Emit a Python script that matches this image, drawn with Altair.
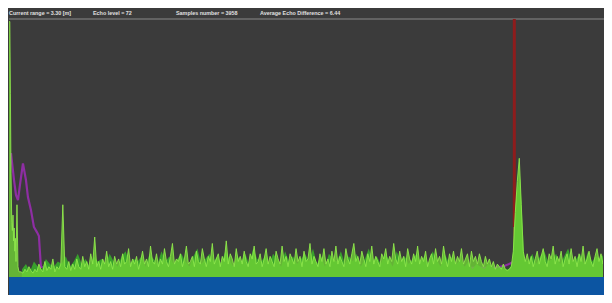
import altair as alt
import pandas as pd

# ---------------- data ----------------
header_labels = ["Current range = 3.30 [m]", "Echo level = 72",
                 "Samples number = 3958", "Average Echo Difference = 6.44"]

# echo amplitude (0-100) against sample position
head_pos = [8, 8.8, 9.4, 10, 10.8, 11.4, 12, 12.6, 13.2, 13.8, 14.4, 15, 16, 17, 18]
head_amp = [99, 99, 71, 40, 21, 18, 24, 14, 19, 10, 15, 6, 28, 4, 2]

body_amp = [
    2, 1.5, 3, 2, 4, 2.5, 1.5, 3, 2, 5,
    3, 2, 6, 2.5, 4, 3, 7, 2, 4, 3,
    5, 28, 4, 3, 6, 2.5, 5, 3, 7, 4,
    3, 8, 4, 6, 3, 9, 5, 15.5, 4, 6,
    3, 7, 5, 10, 4, 6, 3, 8, 5, 7,
    4, 9, 5, 6, 11, 4, 7, 5, 8, 3,
    6, 10, 5, 7, 4, 12, 6, 5, 9, 4,
    7, 5, 11, 6, 4, 8, 13, 5, 7, 6,
    9, 4, 7, 12, 5, 6, 8, 4, 10, 6,
    5, 11, 7, 4, 8, 6, 13, 5, 7, 9,
    4, 8, 6, 14, 5, 9, 7, 4, 11, 6,
    8, 5, 10, 6, 4, 9, 7, 12, 5, 6,
    9, 4, 7, 11, 5, 8, 6, 4, 10, 7,
    5, 12, 6, 8, 4, 9, 7, 5, 11, 6,
    8, 4, 10, 6, 7, 13, 5, 8, 6, 4,
    9, 6, 11, 5, 7, 4, 10, 6, 12, 5,
    8, 6, 4, 11, 7, 5, 9, 13, 6, 8,
    5, 10, 7, 4, 9, 6, 12, 5, 8, 6,
    4, 9, 7, 11, 5, 8, 6, 13, 7, 5,
    10, 6, 8, 4, 11, 7, 5, 9, 6, 12,
    5, 8, 6, 10, 4, 7, 9, 5, 11, 6,
    8, 5, 12, 7, 4, 9, 6, 10, 5, 8,
    6, 11, 5, 7, 9, 4, 10, 6, 8, 5,
    9, 6, 4, 8, 5, 7, 4, 6, 3, 5,
    4, 3, 5, 3, 2.5, 3, 4, 10, 25, 37,
    46, 28, 10, 6, 9, 5, 8, 4, 7, 10,
    5, 8, 11, 6, 4, 9, 7, 12, 5, 8,
    6, 10, 4, 7, 9, 5, 11, 6, 8, 4,
    9, 6, 12, 5, 7, 10, 6, 4, 8, 11,
    6, 9, 5, 12, 7, 10, 8,
]
body_pos = list(range(20, 613, 2))

# second (darker) echo strand, every 4 samples from 21
strand_amp = [
    3, 5, 2, 6, 4, 3, 7, 5, 4, 6,
    5, 8, 4, 6, 9, 5, 7, 4, 8, 6,
    7, 5, 9, 6, 4, 8, 10, 5, 7, 6,
    8, 4, 9, 7, 5, 10, 6, 8, 5, 7,
    9, 6, 4, 8, 11, 5, 7, 9, 6, 8,
    5, 10, 7, 4, 8, 6, 9, 5, 11, 7,
    6, 8, 5, 9, 7, 4, 10, 6, 8, 5,
    7, 9, 6, 11, 5, 8, 4, 9, 7, 6,
    10, 5, 8, 6, 9, 4, 7, 11, 6, 8,
    5, 9, 7, 4, 10, 6, 8, 5, 7, 9,
    6, 8, 5, 10, 7, 4, 9, 6, 8, 5,
    7, 4, 6, 3, 5, 4, 3, 5, 4, 3,
    4, 3, 3, 5, 32, 38, 7, 6, 9, 5,
    8, 10, 6, 7, 9, 5, 8, 11, 6, 7,
    9, 5, 10, 6, 8, 7, 9,
]
strand_pos = list(range(21, 606, 4))

# averaged echo (purple trace)
avg_pos = [10, 13, 15, 17, 19, 22, 25, 27, 30, 33, 36, 38, 40, 45, 100, 200,
           300, 400, 495, 505, 512, 516, 520, 525, 540, 612]
avg_amp = [48, 37.6, 31.8, 29.8, 35.7, 44, 37.6, 31, 26, 19.4, 17.4, 15.9, 3.9,
           3.5, 3.4, 3.6, 3.4, 3.5, 3.5, 4.3, 5.4, 6.6, 5.8, 3.9, 3.5, 3.5]

# detected echo marker: position, lower / upper segment limits
marker_pos = [515, 515]
marker_lo = [19.4, 0]
marker_hi = [100, 19.4]
marker_part = ["above", "below"]

# ---------------- chart ----------------
W, H = 596, 287
PLOT_BG = "#3b3b3b"

echo = pd.DataFrame({"pos": head_pos + body_pos, "amp": head_amp + body_amp})
echo["base"] = 0
strand = pd.DataFrame({"pos": strand_pos, "amp": strand_amp})
strand["base"] = 0
avg = pd.DataFrame({"pos": avg_pos, "amp": avg_amp})
marker = pd.DataFrame({"pos": marker_pos, "lo": marker_lo, "hi": marker_hi,
                       "part": marker_part})

# amplitude 0 -> chart y 269, 100 -> chart y 11
xs = alt.Scale(domain=[8, 8 + W], nice=False, zero=False)
ys = alt.Scale(domain=[-(H - 269) / 2.58, 269 / 2.58], nice=False, zero=False)
X = alt.X("pos:Q", scale=xs, axis=None)
Y = alt.Y("amp:Q", scale=ys, axis=None)

dummy = pd.DataFrame({"k": [0]})

band = alt.Chart(dummy).mark_rect(color="#0c55a2").encode(
    x=alt.value(0), x2=alt.value(W), y=alt.value(269), y2=alt.value(H))

sep = alt.Chart(dummy).mark_rule(color="#8a8a8a", strokeWidth=1.2).encode(
    x=alt.value(0), x2=alt.value(W), y=alt.value(11))

label_x = [0, 84, 167, 251]
texts = [
    alt.Chart(dummy).mark_text(
        text=lab, align="left", baseline="middle", fontSize=5.4,
        font="Liberation Sans", fontWeight="bold", color="#e0e0e0"
    ).encode(x=alt.value(lx), y=alt.value(4.5))
    for lab, lx in zip(header_labels, label_x)
]

mark_lines = alt.Chart(marker).mark_rule().encode(
    x=X,
    y=alt.Y("lo:Q", scale=ys, axis=None),
    y2="hi:Q",
    color=alt.Color("part:N", scale=alt.Scale(domain=["above", "below"],
                                              range=["#8e1c1c", "#b8922a"]),
                    legend=None),
    strokeWidth=alt.StrokeWidth("part:N", scale=alt.Scale(domain=["above", "below"],
                                                          range=[3, 1.5]),
                                legend=None),
)

strand_area = alt.Chart(strand).mark_area(color="#38a02c", clip=True).encode(
    x=X, y=Y, y2="base:Q")

area = alt.Chart(echo).mark_area(color="#6fd236", opacity=0.8, clip=True).encode(
    x=X, y=Y, y2="base:Q")

avg_line = alt.Chart(avg).mark_line(color="#8e2ea3", strokeWidth=2.2, clip=True).encode(
    x=X, y=Y)

edge = alt.Chart(echo).mark_line(color="#8ee84c", strokeWidth=0.9, clip=True).encode(
    x=X, y=Y)

chart = alt.layer(
    band, sep, *texts, mark_lines, avg_line, strand_area, area, edge
).properties(
    width=W, height=H, padding=0, background=PLOT_BG,
    autosize=alt.AutoSizeParams(type="fit", contains="padding"),
).configure_view(stroke=None, fill=PLOT_BG)

chart.save("out.html", embed_options={"renderer": "svg", "actions": False})
